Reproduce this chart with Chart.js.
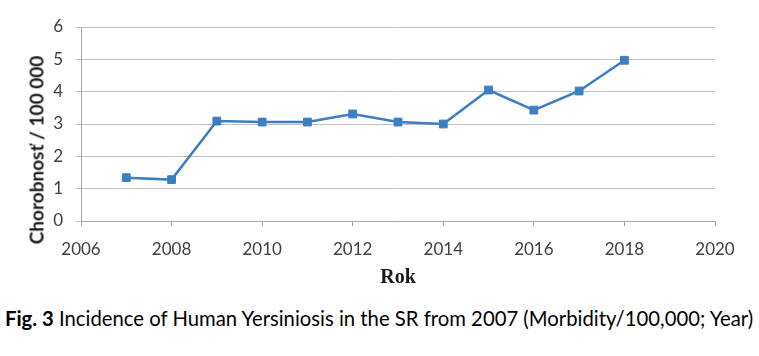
<!DOCTYPE html>
<html>
<head>
<meta charset="utf-8">
<script src="https://cdn.jsdelivr.net/npm/chart.js@4"></script>
<style>
  html, body { margin:0; padding:0; background:#fff; }
  #wrap { position:relative; width:759px; height:356px; overflow:hidden; }
  #chartBox { position:absolute; left:0; top:0; width:759px; height:290px; }
  #ytitle { position:absolute; left:36px; top:150px; transform:translate(-50%,-50%) rotate(-90deg);
            font-family:Lato, "Open Sans", sans-serif; font-weight:bold; font-size:19px; color:#1a1a1a; white-space:nowrap; }
  #caption { position:absolute; left:5px; top:306px; font-family:Lato, "Open Sans", sans-serif; font-size:20.3px; color:#000; white-space:nowrap; }
</style>
</head>
<body>
<div id="wrap">
  <div id="chartBox"><canvas id="c"></canvas></div>
  <div id="ytitle">Chorobnosť / 100 000</div>
  <div id="caption"><b>Fig. 3</b> Incidence of Human Yersiniosis in the SR from 2007 (Morbidity/100,000; Year)</div>
</div>
<script>
const years = [2007, 2008, 2009, 2010, 2011, 2012, 2013, 2014, 2015, 2016, 2017, 2018];
const morbidity = [1.34, 1.28, 3.09, 3.06, 3.06, 3.31, 3.06, 3.00, 4.05, 3.43, 4.02, 4.97];
const xTitle = "Rok";
const xMin = 2006, xMax = 2020, xStep = 2;
const yMin = 0, yMax = 6, yStep = 1;

const points = years.map((y, i) => ({ x: y, y: morbidity[i] }));
const lineColor = '#3B7EC3';
const tickFont = { family: 'Lato, "Open Sans", sans-serif', size: 17 };

new Chart(document.getElementById('c'), {
  type: 'line',
  data: {
    datasets: [{
      data: points,
      borderColor: lineColor,
      backgroundColor: lineColor,
      borderWidth: 2.5,
      pointStyle: 'rect',
      pointRadius: 5.5,
      pointHoverRadius: 5.5,
      pointBorderWidth: 1,
      pointBorderColor: lineColor,
      pointBackgroundColor: lineColor,
      tension: 0
    }]
  },
  options: {
    responsive: true,
    maintainAspectRatio: false,
    animation: false,
    events: [],
    layout: { padding: { left: 0, right: 44, top: 27, bottom: 0 } },
    plugins: { legend: { display: false }, tooltip: { enabled: false } },
    scales: {
      x: {
        type: 'linear',
        min: xMin, max: xMax,
        ticks: { stepSize: xStep, color: '#404040', font: tickFont, padding: 13,
                 callback: v => String(v) },
        grid: { display: true, drawOnChartArea: false, drawTicks: true, tickLength: 5, color: '#a6a6a6' },
        border: { display: true, color: '#a6a6a6', width: 1 },
        title: { display: true, text: xTitle, color: '#1a1a1a', font: { family: '"Liberation Serif", "Times New Roman", serif', size: 20, weight: 'bold' }, padding: { top: 0, bottom: 0 } },
        afterFit: s => { s.height = 69; }
      },
      y: {
        min: yMin, max: yMax,
        ticks: { stepSize: yStep, color: '#404040', font: tickFont, padding: 13 },
        grid: { color: '#bfbfbf', tickLength: 5, drawTicks: true },
        border: { display: true, color: '#a6a6a6', width: 1 },
        afterFit: s => { s.width = 81; }
      }
    }
  }
});
</script>
</body>
</html>
